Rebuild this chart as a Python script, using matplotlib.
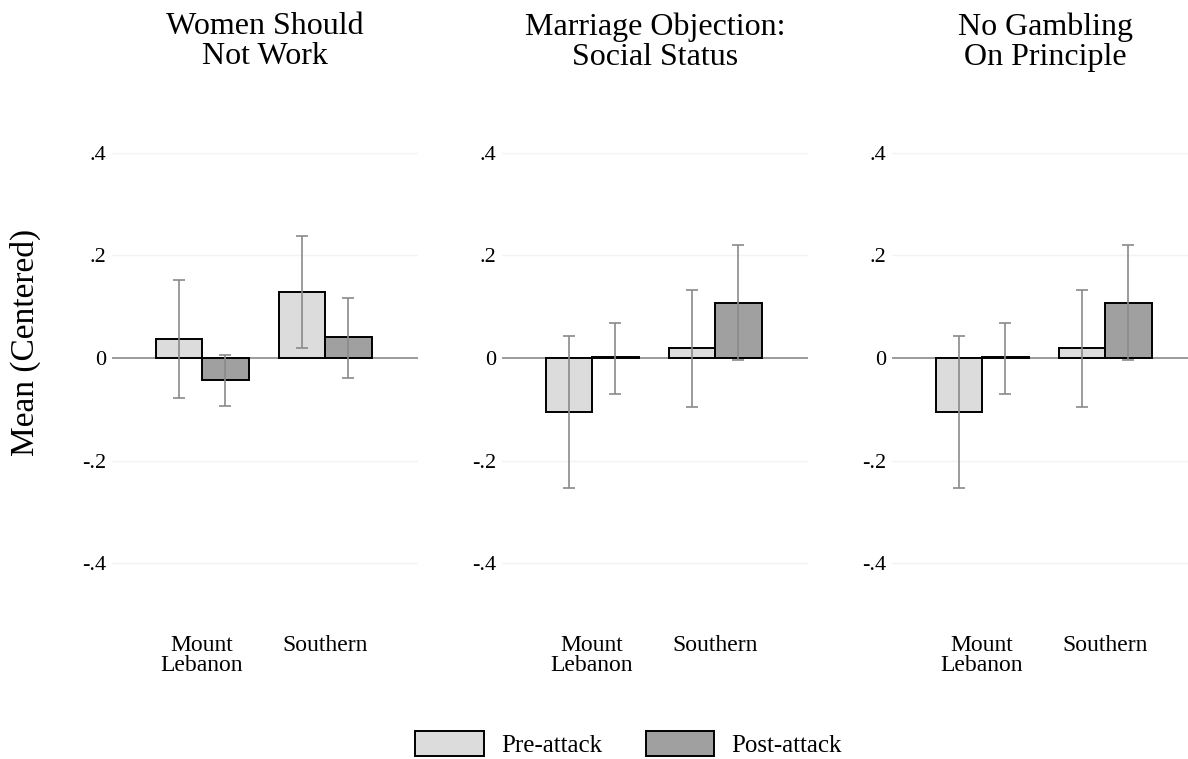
import numpy as np
import matplotlib.pyplot as plt
from matplotlib.patches import Patch

plt.rcParams['font.family'] = ['Liberation Serif', 'DejaVu Serif']

titles = ["Women Should\nNot Work", "Marriage Objection:\nSocial Status", "No Gambling\nOn Principle"]
regions = ["Mount\nLebanon", "Southern"]

# means and 95% CI bounds, [Mount Lebanon, Southern]
pre_mean = [[0.037, 0.129], [-0.105, 0.020], [-0.105, 0.020]]
pre_lo = [[-0.077, 0.019], [-0.253, -0.095], [-0.253, -0.095]]
pre_hi = [[0.151, 0.238], [0.043, 0.132], [0.043, 0.132]]
post_mean = [[-0.043, 0.040], [0.002, 0.108], [0.002, 0.108]]
post_lo = [[-0.093, -0.038], [-0.070, -0.004], [-0.070, -0.004]]
post_hi = [[0.005, 0.117], [0.069, 0.220], [0.069, 0.220]]

yticks = [-0.4, -0.2, 0, 0.2, 0.4]
ytick_labels = ["-.4", "-.2", "0", ".2", ".4"]

pre_color = '#dcdcdc'
post_color = '#a0a0a0'
err_color = '#8a8a8a'

W, H = 1188, 759
fig = plt.figure(figsize=(W / 100, H / 100), dpi=100)

x = np.arange(len(regions))
bw = 0.378

for i in range(3):
    ax = fig.add_axes([(112 + 390 * i) / W, 1 - 589 / H, 306 / W, 462 / H])
    for vals, lo, hi, off, col in [(pre_mean[i], pre_lo[i], pre_hi[i], -bw / 2, pre_color),
                                   (post_mean[i], post_lo[i], post_hi[i], bw / 2, post_color)]:
        vals = np.array(vals)
        err = [vals - np.array(lo), np.array(hi) - vals]
        ax.bar(x + off, vals, bw, color=col, edgecolor='black', linewidth=1.4, zorder=3)
        ax.errorbar(x + off, vals, yerr=err, fmt='none', ecolor=err_color,
                    elinewidth=1.2, capsize=4, capthick=1.2, zorder=4)
    ax.axhline(0, color='#8a8a8a', linewidth=1.2, zorder=2)
    for t in yticks:
        if t != 0:
            ax.axhline(t, color='#f3f3f3', linewidth=1.0, zorder=1)
    ax.set_ylim(-0.45, 0.45)
    ax.set_xlim(-0.732, 1.756)
    ax.set_yticks(yticks)
    ax.set_yticklabels(ytick_labels, fontsize=16)
    ax.set_xticks(x)
    ax.set_xticklabels(regions, fontsize=17, linespacing=0.95, va='top')
    ax.tick_params(axis='both', length=0)
    ax.tick_params(axis='y', pad=4)
    ax.tick_params(axis='x', pad=33)
    for s in ax.spines.values():
        s.set_visible(False)
    ax.text(0.5, 1 + 115 / 462, titles[i], transform=ax.transAxes, ha='center', va='top',
            fontsize=23, linespacing=1.05)

fig.text(25 / W, 1 - 342 / H, "Mean (Centered)", rotation=90, ha='center', va='center', fontsize=24)

handles = [Patch(facecolor=pre_color, edgecolor='black', linewidth=1.4, label='Pre-attack'),
           Patch(facecolor=post_color, edgecolor='black', linewidth=1.4, label='Post-attack')]
fig.legend(handles=handles, loc='lower left', bbox_to_anchor=(415 / W, 2 / H), ncol=2,
           frameon=False, fontsize=18, handlelength=2.75, handleheight=1.2,
           handletextpad=0.68, columnspacing=1.75, borderpad=0, borderaxespad=0)

fig.savefig('out.png', dpi=100)
